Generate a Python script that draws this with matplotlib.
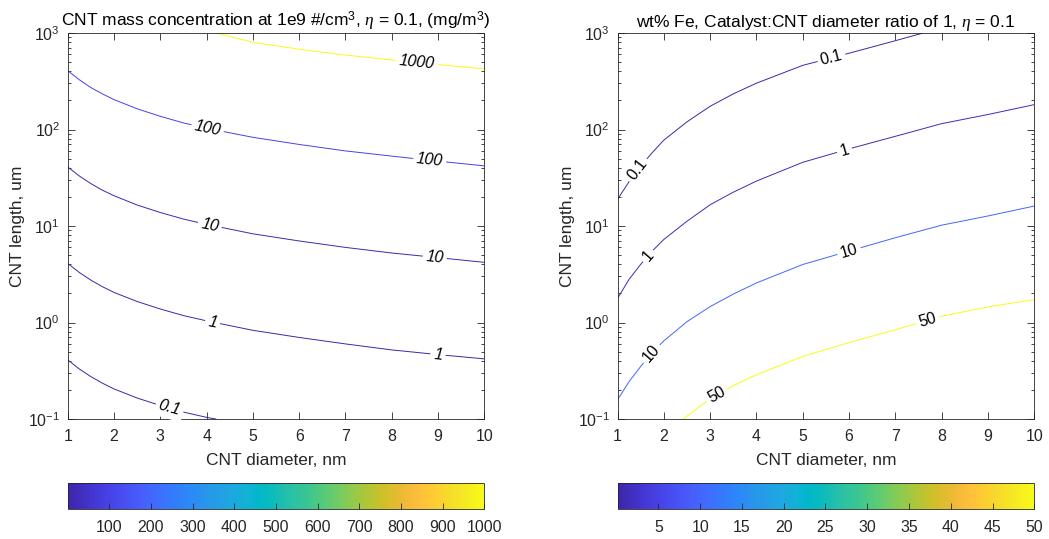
import numpy as np
import matplotlib
matplotlib.use('agg')
import matplotlib.pyplot as plt
from matplotlib.colors import LinearSegmentedColormap, Normalize
from matplotlib.cm import ScalarMappable
from matplotlib.ticker import LogLocator, NullFormatter, FixedLocator

plt.rcParams['font.family'] = ['Liberation Sans', 'DejaVu Sans']
plt.rcParams['mathtext.fontset'] = 'custom'
plt.rcParams['mathtext.rm'] = 'Liberation Sans'
plt.rcParams['mathtext.it'] = 'Liberation Serif:italic'
plt.rcParams['mathtext.bf'] = 'Liberation Sans:bold'

# ---- left panel: CNT mass concentration contours (length in um vs diameter in nm)
mass_levels = [0.1, 1, 10, 100, 1000]
d_mass = [1, 1.25, 1.5, 1.75, 2, 2.5, 3, 3.5, 4, 5, 6, 7, 8, 9, 10]
d_mass_01 = [1, 1.25, 1.5, 1.75, 2, 2.5, 3, 3.5, 4, 4.2]
L_mass_01 = [0.41, 0.33, 0.275, 0.235, 0.205, 0.165, 0.138, 0.118, 0.104, 0.1]
L_mass_1 = [4.1, 3.3, 2.75, 2.35, 2.05, 1.65, 1.38, 1.18, 1.04, 0.83, 0.70, 0.60, 0.52, 0.465, 0.42]
L_mass_10 = [41, 33, 27.5, 23.5, 20.6, 16.5, 13.8, 11.8, 10.4, 8.3, 7.0, 6.0, 5.25, 4.7, 4.2]
L_mass_100 = [408, 328, 272, 234, 204, 164, 137, 117, 103, 83, 70, 60, 53, 47, 42]
d_mass_1000 = [4.2, 5, 6, 7, 8, 9, 10]
L_mass_1000 = [1000, 800, 680, 590, 525, 470, 425]

# ---- right panel: wt% Fe contours
fe_levels = [0.1, 1, 10, 50]
d_fe_01 = [1, 1.25, 1.5, 1.75, 2, 2.5, 3, 3.5, 4, 5, 6, 7, 7.6]
L_fe_01 = [18.9, 28.8, 41.7, 57.5, 77.6, 120, 174, 234, 302, 462, 617, 832, 1000]
d_fe = [1, 1.25, 1.5, 1.75, 2, 2.5, 3, 3.5, 4, 5, 6, 7, 8, 9, 10]
L_fe_1 = [1.77, 2.8, 4.0, 5.5, 7.25, 11.2, 16.6, 22.4, 29.2, 45.7, 63, 85, 115, 143, 181]
L_fe_10 = [0.158, 0.244, 0.35, 0.49, 0.645, 1.02, 1.46, 1.97, 2.57, 3.99, 5.5, 7.56, 10.2, 12.7, 16.1]
d_fe_50 = [2.42, 2.5, 2.75, 3, 3.5, 4, 5, 6, 7, 8, 9, 10]
L_fe_50 = [0.1, 0.107, 0.132, 0.162, 0.221, 0.288, 0.445, 0.62, 0.84, 1.16, 1.45, 1.73]

mass_ticks = [100, 200, 300, 400, 500, 600, 700, 800, 900, 1000]
fe_ticks = [5, 10, 15, 20, 25, 30, 35, 40, 45, 50]

# parula (approx, from matlab's 64 entry table)
par_idx = [0, 3, 6, 9, 12, 14, 16, 18, 21, 24, 27, 29, 31, 33, 36, 39, 42, 45, 48, 51, 53, 55, 58, 61, 63]
par_rgb = [(0.2422, 0.1504, 0.6603), (0.2647, 0.1978, 0.7952), (0.2783, 0.2559, 0.8991),
           (0.2810, 0.3228, 0.9579), (0.2699, 0.3892, 0.9906), (0.2440, 0.4358, 0.9988),
           (0.1963, 0.4847, 0.9892), (0.1786, 0.5289, 0.9682), (0.1540, 0.5902, 0.9218),
           (0.1248, 0.6459, 0.8883), (0.0689, 0.6948, 0.8394), (0.0036, 0.7197, 0.7909),
           (0.0433, 0.7374, 0.7350), (0.1408, 0.7509, 0.6770), (0.2161, 0.7729, 0.5843),
           (0.3406, 0.7960, 0.4661), (0.5044, 0.7993, 0.3480), (0.6720, 0.7793, 0.2227),
           (0.8203, 0.7498, 0.1535), (0.9393, 0.7288, 0.2100), (0.9956, 0.7434, 0.2371),
           (0.9952, 0.7893, 0.2028), (0.9676, 0.8639, 0.1643), (0.9628, 0.9373, 0.1265),
           (0.9769, 0.9839, 0.0805)]
parula = LinearSegmentedColormap.from_list('parula', [(i / 63.0, c) for i, c in zip(par_idx, par_rgb)])

GRAY = (0.15, 0.15, 0.15)
W, H = 1049, 539
fig = plt.figure(figsize=(W / 100, H / 100), dpi=100)


def px_axes(x0, x1, ytop, ybot):
    return fig.add_axes([x0 / W, (H - ybot) / H, (x1 - x0) / W, (ybot - ytop) / H])


def style_axes(ax, title):
    ax.set_yscale('log')
    ax.set_xlim(1, 10)
    ax.set_ylim(0.1, 1000)
    ax.xaxis.set_major_locator(FixedLocator(range(1, 11)))
    ax.yaxis.set_major_locator(LogLocator(base=10, numticks=10))
    ax.yaxis.set_minor_locator(LogLocator(base=10, subs=range(2, 10), numticks=20))
    ax.yaxis.set_minor_formatter(NullFormatter())
    ax.tick_params(which='both', direction='in', top=True, right=True, color=GRAY,
                   labelcolor=GRAY, labelsize=11.4, width=0.6)
    ax.tick_params(which='major', length=5)
    ax.tick_params(which='minor', length=2.5)
    ax.tick_params(axis='x', pad=7)
    ax.tick_params(axis='y', pad=5.5)
    for s in ax.spines.values():
        s.set_color(GRAY)
        s.set_linewidth(0.6)
    ax.set_xlabel('CNT diameter, nm', fontsize=12.5, color=GRAY, labelpad=7)
    ax.set_ylabel('CNT length, um', fontsize=12.5, color=GRAY, labelpad=2)
    ax.set_title(title, fontsize=12.5, pad=4)


def label_line(ax, d, L, d0, text, italic):
    logL = np.log10(L)
    y0 = 10 ** np.interp(d0, d, logL)
    p1 = ax.transData.transform((d0 - 0.08, 10 ** np.interp(d0 - 0.08, d, logL)))
    p2 = ax.transData.transform((d0 + 0.08, 10 ** np.interp(d0 + 0.08, d, logL)))
    ang = np.degrees(np.arctan2(p2[1] - p1[1], p2[0] - p1[0]))
    ax.text(d0, y0, text, rotation=ang, rotation_mode='anchor', ha='center', va='center',
            fontsize=11.5, style='italic' if italic else 'normal', zorder=5,
            bbox=dict(boxstyle='square,pad=0.2', fc='white', ec='none'))


def colorbar(x0, x1, norm, ticks):
    cax = px_axes(x0, x1, 482.5, 508.5)
    cb = fig.colorbar(ScalarMappable(norm=norm, cmap=parula), cax=cax, orientation='horizontal')
    cb.set_ticks(ticks)
    cb.ax.tick_params(direction='in', length=4, color=GRAY, labelcolor=GRAY, labelsize=11.4,
                      width=0.6, pad=8)
    cb.outline.set_edgecolor(GRAY)
    cb.outline.set_linewidth(0.6)
    return cb


# left panel
ax1 = px_axes(67.7, 484.3, 33, 419)
style_axes(ax1, r'CNT mass concentration at 1e9 #/cm$^3$, $\eta$ = 0.1, (mg/m$^3$)')
norm1 = Normalize(0.1, 1000)
mass_curves = [(d_mass_01, L_mass_01), (d_mass, L_mass_1), (d_mass, L_mass_10),
               (d_mass, L_mass_100), (d_mass_1000, L_mass_1000)]
for lev, (d, L) in zip(mass_levels, mass_curves):
    ax1.plot(d, L, color=parula(norm1(lev)), lw=0.7, zorder=2)
mass_labels = [(0, 3.2, '0.1'), (1, 4.13, '1'), (1, 9.0, '1'), (2, 4.07, '10'), (2, 8.93, '10'),
               (3, 4.02, '100'), (3, 8.82, '100'), (4, 8.55, '1000')]
for i, d0, txt in mass_labels:
    label_line(ax1, mass_curves[i][0], mass_curves[i][1], d0, txt, True)
colorbar(67.7, 484.3, norm1, mass_ticks)

# right panel
ax2 = px_axes(617.5, 1034.3, 33, 419)
style_axes(ax2, r'wt% Fe, Catalyst:CNT diameter ratio of 1, $\eta$ = 0.1')
norm2 = Normalize(0.1, 50)
fe_curves = [(d_fe_01, L_fe_01), (d_fe, L_fe_1), (d_fe, L_fe_10), (d_fe_50, L_fe_50)]
for lev, (d, L) in zip(fe_levels, fe_curves):
    ax2.plot(d, L, color=parula(norm2(lev)), lw=0.7, zorder=2)
fe_labels = [(0, 1.44, '0.1'), (0, 5.62, '0.1'), (1, 1.66, '1'), (1, 5.9, '1'),
             (2, 1.73, '10'), (2, 6.0, '10'), (3, 3.14, '50'), (3, 7.7, '50')]
for i, d0, txt in fe_labels:
    label_line(ax2, fe_curves[i][0], fe_curves[i][1], d0, txt, False)
colorbar(617.5, 1034.3, norm2, fe_ticks)

fig.savefig('out.png', dpi=100)
